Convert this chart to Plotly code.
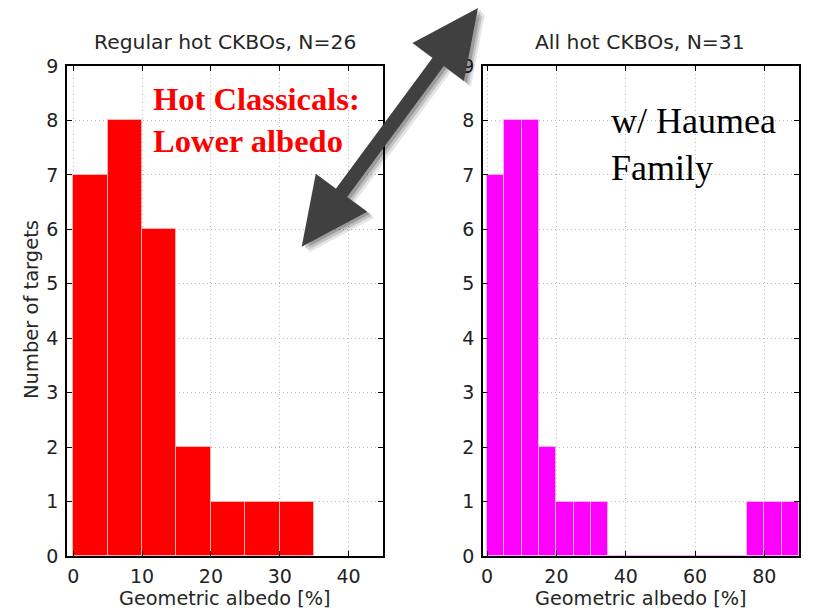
import numpy as np
import plotly.graph_objects as go

# ---- data ----
bin_width = 5
left_edges = [0, 5, 10, 15, 20, 25, 30]
left_counts = [7, 8, 6, 2, 1, 1, 1]
right_edges = [0, 5, 10, 15, 20, 25, 30, 35, 40, 45, 50, 55, 60, 65, 70, 75, 80, 85]
right_counts = [7, 8, 8, 2, 1, 1, 1, 0, 0, 0, 0, 0, 0, 0, 0, 1, 1, 1]
left_title = "Regular hot CKBOs, N=26"
right_title = "All hot CKBOs, N=31"
x_label = "Geometric albedo [%]"
y_label = "Number of targets"
left_xticks = [0, 10, 20, 30, 40]
right_xticks = [0, 20, 40, 60, 80]
y_ticks = list(range(0, 10))

W, H = 821, 610
L, R, T, B = 67, 22, 66, 54
PW, PH = W - L - R, H - T - B


def px(x, y):
    return (x - L) / PW, (H - B - y) / PH


fig = go.Figure()
fig.add_trace(go.Bar(
    x=[e + bin_width / 2 for e in left_edges], y=left_counts, width=bin_width,
    marker=dict(color="#ff0000", line=dict(color="#ffb0b0", width=1)),
    xaxis="x", yaxis="y", showlegend=False))
fig.add_trace(go.Bar(
    x=[e + bin_width / 2 for e in right_edges], y=right_counts, width=bin_width,
    marker=dict(color="#ff00ff", line=dict(color="#ffb0ff", width=1)),
    xaxis="x2", yaxis="y2", showlegend=False))

sans = "DejaVu Sans, Verdana, sans-serif"
tickfont = dict(family=sans, size=19, color="#222222")
grid = dict(showgrid=True, gridcolor="#b8b8b8", griddash="1px,3px", gridwidth=1)
common_x = dict(showline=True, linecolor="black", linewidth=1.5, mirror="allticks",
                ticks="inside", ticklen=5, tickcolor="black", tickfont=tickfont,
                zeroline=False, ticklabelstandoff=2, **grid)
common_y = dict(showline=True, linecolor="black", linewidth=1.5, mirror="allticks",
                ticks="inside", ticklen=5, tickcolor="black", tickfont=tickfont,
                zeroline=False, range=[0, 9], tickvals=y_ticks, ticklabelstandoff=3, **grid)

d1 = (383 - L) / PW
d2 = (483 - L) / PW
fig.update_layout(
    width=W, height=H,
    margin=dict(l=L, r=R, t=T, b=B),
    paper_bgcolor="white", plot_bgcolor="white",
    bargap=0,
    xaxis=dict(domain=[0, d1], range=[-0.9, 45], tickvals=left_xticks, anchor="y", **common_x),
    yaxis=dict(domain=[0, 1], anchor="x", **common_y),
    xaxis2=dict(domain=[d2, 1], range=[-1.2, 90], tickvals=right_xticks, anchor="y2", **common_x),
    yaxis2=dict(domain=[0, 1], anchor="x2", **common_y),
)

tfont = dict(family=sans, size=20.3, color="#262626")
xfont = dict(family=sans, size=19.3, color="#262626")
yfont = dict(family=sans, size=19.5, color="#262626")
annos = []
for cx, txt in [(225, left_title), (640, right_title)]:
    x, y = px(cx, 42)
    annos.append(dict(x=x, y=y, xref="paper", yref="paper", text=txt, showarrow=False,
                      xanchor="center", yanchor="middle", font=tfont))
for cx in [225, 641]:
    x, y = px(cx, 598)
    annos.append(dict(x=x, y=y, xref="paper", yref="paper", text=x_label, showarrow=False,
                      xanchor="center", yanchor="middle", font=xfont))
x, y = px(31, 310)
annos.append(dict(x=x, y=y, xref="paper", yref="paper", text=y_label, showarrow=False,
                  textangle=-90, xanchor="center", yanchor="middle", font=yfont))
x, y = px(151, 120)
annos.append(dict(x=x, y=y, xref="paper", yref="paper",
                  text="<b>Hot Classicals:<br>Lower albedo</b>", showarrow=False,
                  align="left", xanchor="left", yanchor="middle",
                  font=dict(family="Liberation Serif, Times New Roman, serif", size=32.5, color="#ff0000")))
x, y = px(609, 144)
annos.append(dict(x=x, y=y, xref="paper", yref="paper",
                  text="w/ Haumea<br>Family", showarrow=False,
                  align="left", xanchor="left", yanchor="middle",
                  font=dict(family="Liberation Serif, Times New Roman, serif", size=36, color="black")))
fig.update_layout(annotations=annos)

# ---- double-headed arrow decoration ----
p0 = np.array([301.7, 246.7])
p1 = np.array([478.0, 8.0])
u = (p1 - p0) / np.linalg.norm(p1 - p0)
n = np.array([-u[1], u[0]])
hl, hw, sw = 67, 32, 7
pts = [
    p0,
    p0 + u * hl + n * hw,
    p0 + u * hl + n * sw,
    p1 - u * hl + n * sw,
    p1 - u * hl + n * hw,
    p1,
    p1 - u * hl - n * hw,
    p1 - u * hl - n * sw,
    p0 + u * hl - n * sw,
    p0 + u * hl - n * hw,
]


def path_of(points, off=(0, 0)):
    s = ""
    for i, p in enumerate(points):
        x, y = px(p[0] + off[0], p[1] + off[1])
        s += ("M" if i == 0 else "L") + f"{x:.5f},{y:.5f} "
    return s + "Z"


shapes = []
for off, a in [((7, 6), 0.10), ((5, 4), 0.15), ((3, 2), 0.2)]:
    shapes.append(dict(type="path", xref="paper", yref="paper", path=path_of(pts, off),
                       fillcolor=f"rgba(0,0,0,{a})", line=dict(width=0), layer="above"))
shapes.append(dict(type="path", xref="paper", yref="paper", path=path_of(pts),
                   fillcolor="#404040", line=dict(width=0), layer="above"))
fig.update_layout(shapes=shapes)

fig.write_html("out.html")
